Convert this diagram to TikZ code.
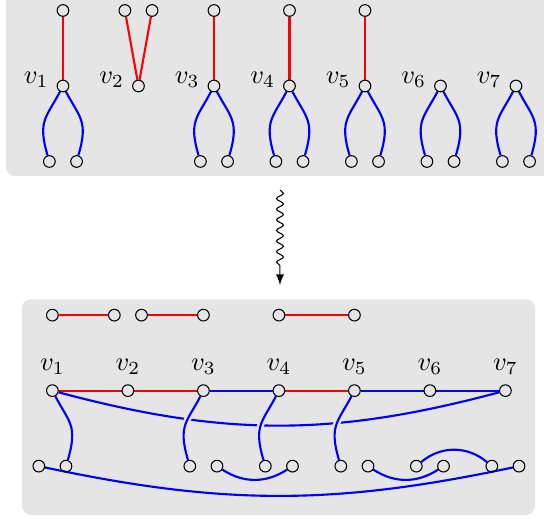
\documentclass[tikz,border=0pt]{standalone}
\usetikzlibrary{decorations.pathmorphing}

\pgfdeclarelayer{back}
\pgfdeclarelayer{mid}
\pgfsetlayers{back,mid,main}

\tikzset{
  vtx/.style={circle, draw, inner sep=0pt, minimum size=4.4pt},
  redge/.style={red, thick},
  bedge/.style={blue, thick},
  halo/.style={preaction={draw=black!10, line width=2.6pt}},
  lft/.style={label={[xshift=0.5pt,yshift=2.5pt]left:$v_{#1}$}},
  panel/.style={fill=black!10, rounded corners=3.5pt},
}

\begin{document}
\begin{tikzpicture}

\useasboundingbox (-0.834,-5.735) rectangle (6.371,1.139);

\begin{pgfonlayer}{back}
\fill[panel] (-0.755,-1.192) rectangle (6.6,1.4);
\end{pgfonlayer}

% split vertices
\foreach \i in {1,...,7} \node[vtx, lft=\i] (v\i) at (\i-1,0) {};
\foreach \i in {1,3,4,5} \node[vtx] (t\i) at (\i-1,1) {};
\node[vtx] (t2a) at (0.82,1) {};
\node[vtx] (t2b) at (1.18,1) {};
\foreach \i in {1,3,4,5,6,7} {
  \node[vtx] (l\i) at (\i-1.18,-1) {};
  \node[vtx] (r\i) at (\i-0.82,-1) {};
}

\begin{pgfonlayer}{mid}
\foreach \i in {1,3,4,5} \draw[redge] (v\i) -- (t\i);
\draw[redge] (v2) -- (t2a);
\draw[redge] (v2) -- (t2b);
\foreach \i in {1,3,4,5,6,7} {
  \draw[bedge] (v\i) .. controls +(-0.22,-0.42) and +(-0.16,0.54) .. (l\i);
  \draw[bedge] (v\i) .. controls +(0.22,-0.42) and +(0.16,0.54) .. (r\i);
}
\end{pgfonlayer}

\coordinate (arrtop) at (2.874,-1.377);
\coordinate (arrend) at (2.874,-2.636);
\draw[-latex, decorate, decoration={snake, amplitude=1.3pt, segment length=4pt, post length=7pt}] (arrtop) -- (arrend);

\begin{scope}[shift={(-0.14,-4.035)}]

\begin{pgfonlayer}{back}
\fill[panel] (-0.405,-1.646) rectangle (6.393,1.21);
\end{pgfonlayer}

\foreach \i in {1,...,7} \node[vtx, label=above:$v_{\i}$] (w\i) at (\i-1,0) {};
\node[vtx] (p1) at (0,1) {};
\node[vtx] (p2) at (0.82,1) {};
\node[vtx] (p3) at (1.18,1) {};
\node[vtx] (p4) at (2,1) {};
\node[vtx] (p5) at (3,1) {};
\node[vtx] (p6) at (4,1) {};
\foreach \i in {1,3,4,5,6,7} {
  \node[vtx] (bl\i) at (\i-1.18,-1) {};
  \node[vtx] (br\i) at (\i-0.82,-1) {};
}

\begin{pgfonlayer}{mid}
\draw[redge] (p1) -- (p2);
\draw[redge] (p3) -- (p4);
\draw[redge] (p5) -- (p6);
\draw[redge] (w1) -- (w2);
\draw[redge] (w2) -- (w3);
\draw[redge] (w4) -- (w5);
\draw[bedge] (w3) -- (w4);
\draw[bedge] (w5) -- (w6);
\draw[bedge] (w6) -- (w7);

\draw[bedge] (w1) .. controls +(0.22,-0.42) and +(0.16,0.54) .. (br1);
\draw[bedge] (w1) to[out=-15,in=195] (w7);
\draw[bedge] (bl1) to[out=-12,in=192] (br7);
\draw[bedge] (br3) to[out=-33,in=-147] (br4);
\draw[bedge] (br5) to[out=-33,in=-147] (br6);
\draw[bedge] (bl6) to[out=40,in=140] (bl7);

\foreach \i in {3,4,5}
  \draw[bedge, halo] (w\i) .. controls +(-0.22,-0.42) and +(-0.16,0.54) .. (bl\i);
\end{pgfonlayer}

\end{scope}

\end{tikzpicture}
\end{document}
